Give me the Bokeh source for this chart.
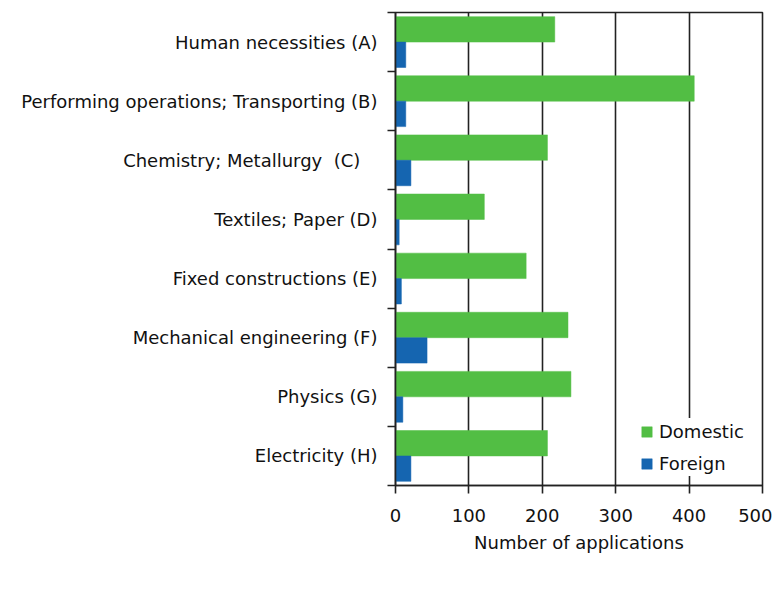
from bokeh.plotting import figure
from bokeh.models import Range1d, FixedTicker, Legend, LegendItem, ColumnDataSource
from bokeh.embed import file_html
from bokeh.resources import INLINE

categories = [
    "Human necessities (A)",
    "Performing operations; Transporting (B)",
    "Chemistry; Metallurgy\u00a0 (C)\u00a0\u00a0\u00a0",
    "Textiles; Paper (D)",
    "Fixed constructions (E)",
    "Mechanical engineering (F)",
    "Physics (G)",
    "Electricity (H)",
]
domestic = [217, 407, 207, 121, 178, 235, 239, 207]
foreign = [14, 14, 21, 5, 8, 43, 10, 21]
x_ticks = [0, 100, 200, 300, 400, 500]
x_title = "Number of applications"
series_names = ["Domestic", "Foreign"]

GREEN = "#52BE44"
BLUE = "#1565B0"
DARK = "#222222"
FONT = "DejaVu Sans"

n = len(categories)
centers = [n - i - 0.5 for i in range(n)]
bar_h = 0.43

src = ColumnDataSource(dict(
    cat=categories,
    y_dom=[c + bar_h / 2 for c in centers],
    y_for=[c - bar_h / 2 for c in centers],
    dom=domestic,
    fore=foreign,
))

p = figure(width=772, height=595, output_backend="svg", toolbar_location=None,
           x_range=Range1d(0, 500), y_range=Range1d(0, n),
           min_border_left=395, min_border_right=10, min_border_top=12,
           min_border_bottom=110)

r_dom = p.hbar(y="y_dom", right="dom", left=0, height=bar_h, source=src,
               fill_color=GREEN, line_color=GREEN, line_width=0.5)
r_for = p.hbar(y="y_for", right="fore", left=0, height=bar_h, source=src,
               fill_color=BLUE, line_color=BLUE, line_width=0.5)

p.background_fill_color = "white"
p.border_fill_color = "white"
p.outline_line_color = DARK
p.outline_line_width = 1.6

# x axis
p.xaxis.ticker = FixedTicker(ticks=x_ticks)
p.xaxis.axis_label = x_title
p.xaxis.axis_label_text_font = FONT
p.xaxis.axis_label_text_font_size = "18px"
p.xaxis.axis_label_text_font_style = "normal"
p.xaxis.axis_label_text_color = "#111111"
p.xaxis.axis_label_standoff = 7
p.xaxis.major_label_text_font = FONT
p.xaxis.major_label_text_font_size = "18px"
p.xaxis.major_label_text_color = "#111111"
p.xaxis.major_label_standoff = 15
p.xaxis.major_tick_in = 0
p.xaxis.major_tick_out = 8
p.xaxis.minor_tick_line_color = None
p.xaxis.axis_line_color = DARK
p.xaxis.axis_line_width = 1.6
p.xaxis.major_tick_line_color = DARK
p.xaxis.major_tick_line_width = 1.6

# y axis
p.yaxis.ticker = FixedTicker(ticks=centers, minor_ticks=list(range(n + 1)))
p.yaxis.major_label_overrides = {c: lab for c, lab in zip(centers, categories)}
p.yaxis.major_label_text_font = FONT
p.yaxis.major_label_text_font_size = "18px"
p.yaxis.major_label_text_color = "#111111"
p.yaxis.major_label_standoff = 10
p.yaxis.major_tick_line_color = None
p.yaxis.major_tick_out = 8
p.yaxis.major_tick_in = 0
p.yaxis.minor_tick_line_color = DARK
p.yaxis.minor_tick_line_width = 1.6
p.yaxis.minor_tick_out = 8
p.yaxis.minor_tick_in = 0
p.yaxis.axis_line_color = DARK
p.yaxis.axis_line_width = 1.6

p.xgrid.ticker = FixedTicker(ticks=x_ticks)
p.xgrid.grid_line_color = DARK
p.xgrid.grid_line_width = 1.6
p.ygrid.grid_line_color = None

legend = Legend(items=[LegendItem(label=series_names[0], renderers=[r_dom]),
                       LegendItem(label=series_names[1], renderers=[r_for])],
                location=(245, 9), orientation="vertical")
legend.glyph_width = 13
legend.glyph_height = 13
legend.label_height = 26
legend.spacing = 6
legend.padding = 5
legend.margin = 0
legend.label_standoff = 6
legend.label_text_font = FONT
legend.label_text_font_size = "18px"
legend.label_text_color = "#111111"
legend.border_line_color = None
legend.background_fill_color = "white"
legend.background_fill_alpha = 1.0
p.add_layout(legend, "center")

open("out.html", "w").write(file_html(p, INLINE))
